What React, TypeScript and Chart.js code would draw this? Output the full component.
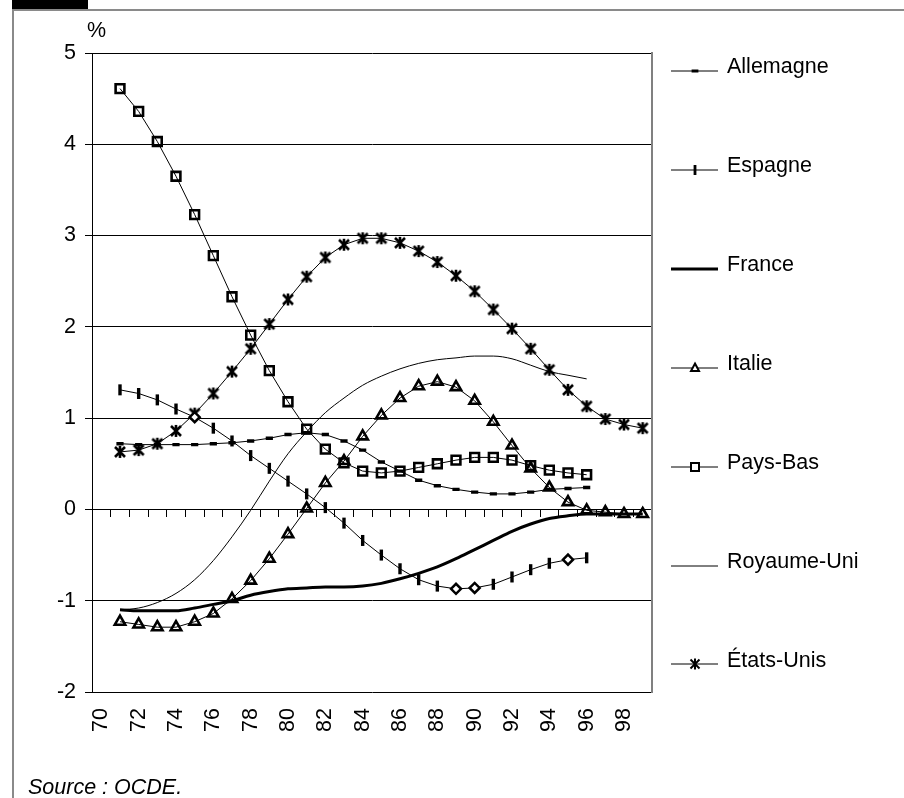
import React, { useEffect, useRef } from 'react';
import { Chart, registerables } from 'chart.js';

Chart.register(...registerables);

// ---------- data ----------
const years = ['70', '71', '72', '73', '74', '75', '76', '77', '78', '79', '80', '81', '82', '83', '84', '85', '86', '87', '88', '89', '90', '91', '92', '93', '94', '95', '96', '97', '98', '99'];

const allemagne = [null, 0.72, 0.71, 0.71, 0.71, 0.71, 0.72, 0.73, 0.75, 0.78, 0.82, 0.84, 0.82, 0.75, 0.65, 0.52, 0.42, 0.32, 0.26, 0.22, 0.19, 0.17, 0.17, 0.19, 0.22, 0.23, 0.24, null, null, null];
const espagne = [null, 1.31, 1.27, 1.2, 1.1, 1.01, 0.89, 0.75, 0.59, 0.45, 0.31, 0.17, 0.02, -0.15, -0.34, -0.5, -0.65, -0.77, -0.84, -0.87, -0.86, -0.82, -0.74, -0.66, -0.59, -0.55, -0.53, null, null, null];
const espagneDiamondYears = ['75', '89', '90', '95'];
const france = [null, -1.1, -1.11, -1.11, -1.11, -1.08, -1.04, -1.0, -0.94, -0.9, -0.87, -0.86, -0.85, -0.85, -0.84, -0.81, -0.76, -0.7, -0.63, -0.54, -0.44, -0.34, -0.24, -0.16, -0.1, -0.07, -0.05, -0.05, -0.05, -0.05];
const italie = [null, -1.23, -1.26, -1.29, -1.29, -1.23, -1.14, -0.98, -0.78, -0.54, -0.27, 0.01, 0.29, 0.53, 0.8, 1.03, 1.22, 1.35, 1.4, 1.34, 1.19, 0.96, 0.7, 0.45, 0.24, 0.08, -0.01, -0.03, -0.05, -0.05];
const paysBas = [null, 4.61, 4.36, 4.03, 3.65, 3.23, 2.78, 2.33, 1.91, 1.52, 1.18, 0.88, 0.66, 0.51, 0.42, 0.4, 0.42, 0.46, 0.5, 0.54, 0.57, 0.57, 0.54, 0.48, 0.43, 0.4, 0.38, null, null, null];
const royaumeUni = [null, -1.1, -1.08, -1.02, -0.92, -0.77, -0.56, -0.3, -0.01, 0.31, 0.61, 0.85, 1.06, 1.22, 1.36, 1.46, 1.54, 1.6, 1.64, 1.66, 1.68, 1.68, 1.65, 1.58, 1.51, 1.47, 1.43, null, null, null];
const etatsUnis = [null, 0.63, 0.65, 0.72, 0.86, 1.05, 1.27, 1.51, 1.76, 2.03, 2.3, 2.55, 2.76, 2.9, 2.97, 2.97, 2.92, 2.83, 2.71, 2.56, 2.39, 2.19, 1.98, 1.76, 1.53, 1.31, 1.13, 0.99, 0.93, 0.89];

const seriesNames = ['Allemagne', 'Espagne', 'France', 'Italie', 'Pays-Bas', 'Royaume-Uni', 'États-Unis'];
const yMin = -2;
const yMax = 5;
const yStep = 1;
const unitLabel = '%';
const sourceText = 'Source : OCDE.';

// ---------- styles ----------
const FONT = "'Liberation Sans', Arial, Helvetica, sans-serif";
const FONT_SIZE = 21.5;
const LEGEND_TOP = 71;
const LEGEND_STEP = 98.9;

function makeAsterisk(): HTMLCanvasElement {
  const c = document.createElement('canvas');
  c.width = 14;
  c.height = 14;
  const ctx = c.getContext('2d');
  if (ctx) {
    ctx.strokeStyle = '#000';
    ctx.lineWidth = 2.6;
    ctx.beginPath();
    ctx.moveTo(2, 2);
    ctx.lineTo(12, 12);
    ctx.moveTo(12, 2);
    ctx.lineTo(2, 12);
    ctx.moveTo(7, 1);
    ctx.lineTo(7, 13);
    ctx.stroke();
  }
  return c;
}

function LegendSample({ kind }: { kind: number }) {
  const cx = 24;
  const cy = 8;
  let marker: React.ReactNode = null;
  if (kind === 0) marker = <rect x={cx - 3.4} y={cy - 1.5} width={6.8} height={3} fill="#000" />;
  if (kind === 1) marker = <rect x={cx - 1.4} y={cy - 5} width={2.8} height={10} fill="#000" />;
  if (kind === 3)
    marker = <polygon points={`${cx},${cy - 4.5} ${cx + 4},${cy + 3} ${cx - 4},${cy + 3}`} fill="#fff" stroke="#000" strokeWidth={2} />;
  if (kind === 4) marker = <rect x={cx - 4} y={cy - 4} width={8} height={8} fill="#fff" stroke="#000" strokeWidth={2} />;
  if (kind === 6)
    marker = (
      <g stroke="#000" strokeWidth={2}>
        <line x1={cx - 4.5} y1={cy - 4.5} x2={cx + 4.5} y2={cy + 4.5} />
        <line x1={cx + 4.5} y1={cy - 4.5} x2={cx - 4.5} y2={cy + 4.5} />
        <line x1={cx} y1={cy - 5.5} x2={cx} y2={cy + 5.5} />
      </g>
    );
  return (
    <svg width={48} height={16} style={{ position: 'absolute', left: 0, top: 0, overflow: 'visible' }}>
      <line x1={0} y1={cy} x2={47} y2={cy} stroke="#000" strokeWidth={kind === 2 ? 3 : 1} />
      {marker}
    </svg>
  );
}

export default function App() {
  const canvasRef = useRef<HTMLCanvasElement | null>(null);

  useEffect(() => {
    const canvas = canvasRef.current;
    if (!canvas) return;
    const asterisk = makeAsterisk();
    const isDiamond = (i: number) => espagneDiamondYears.includes(years[i]);

    const base = {
      borderColor: '#000',
      borderWidth: 1,
      pointBorderColor: '#000',
      pointBackgroundColor: 'rgba(0,0,0,0)',
      fill: false,
      tension: 0,
      spanGaps: false,
    };

    const chart = new Chart(canvas, {
      type: 'line',
      data: {
        labels: years,
        datasets: [
          { ...base, label: seriesNames[0], data: allemagne, pointStyle: 'line', pointRadius: 3.6, pointBorderWidth: 3.4 },
          {
            ...base,
            label: seriesNames[1],
            data: espagne,
            pointStyle: (ctx: any) => (isDiamond(ctx.dataIndex) ? 'rectRot' : 'line'),
            pointRotation: (ctx: any) => (isDiamond(ctx.dataIndex) ? 0 : 90),
            pointRadius: (ctx: any) => (isDiamond(ctx.dataIndex) ? 5 : 5.5),
            pointBorderWidth: (ctx: any) => (isDiamond(ctx.dataIndex) ? 2.5 : 3.4),
            pointBackgroundColor: '#fff',
          },
          { ...base, label: seriesNames[2], data: france, borderWidth: 3, pointRadius: 0, cubicInterpolationMode: 'monotone' },
          { ...base, label: seriesNames[3], data: italie, pointStyle: 'triangle', pointRadius: 6, pointBorderWidth: 2.6 },
          { ...base, label: seriesNames[4], data: paysBas, pointStyle: 'rect', pointRadius: 6.2, pointBorderWidth: 2.6 },
          { ...base, label: seriesNames[5], data: royaumeUni, pointRadius: 0, cubicInterpolationMode: 'monotone' },
          { ...base, label: seriesNames[6], data: etatsUnis, pointStyle: asterisk as any, pointRadius: 6 },
        ] as any,
      },
      options: {
        animation: false,
        responsive: false,
        layout: { padding: { left: 13, top: 53, right: 252, bottom: 0 } },
        plugins: {
          legend: { display: false },
          tooltip: { enabled: false },
        },
        scales: {
          x: {
            type: 'category',
            position: 'bottom',
            offset: true,
            grid: { display: false, drawTicks: false },
            border: { display: false },
            ticks: {
              autoSkip: false,
              maxRotation: 90,
              minRotation: 90,
              padding: 16,
              color: '#000',
              font: { family: FONT, size: FONT_SIZE },
              callback: function (this: any, value: any, index: number) {
                return index % 2 === 0 ? this.getLabelForValue(value) : '';
              },
            },
            afterFit: (s: any) => {
              s.height = 106;
            },
          },
          x0: {
            type: 'category',
            axis: 'x',
            position: { y: 0 },
            offset: true,
            grid: { drawOnChartArea: false, drawTicks: true, tickLength: 7, color: '#000', lineWidth: 1, offset: true },
            border: { display: true, color: '#000', width: 1 },
            ticks: { display: false },
          },
          y: {
            type: 'linear',
            position: 'left',
            min: yMin,
            max: yMax,
            ticks: { stepSize: yStep, padding: 9, color: '#000', font: { family: FONT, size: FONT_SIZE } },
            grid: { color: '#000', lineWidth: 1, drawTicks: true, tickLength: 7 },
            border: { display: true, color: '#000', width: 1 },
            afterFit: (s: any) => {
              s.width = 79;
            },
          },
          yR: {
            type: 'linear',
            position: 'right',
            min: yMin,
            max: yMax,
            grid: { drawOnChartArea: false, drawTicks: false },
            ticks: { display: false },
            border: { display: true, color: '#808080', width: 2 },
            afterFit: (s: any) => {
              s.width = 0;
            },
          },
        },
      } as any,
    });

    return () => {
      chart.destroy();
    };
  }, []);

  return (
    <div
      style={{
        position: 'absolute',
        left: 0,
        top: 0,
        width: 904,
        height: 798,
        background: '#fff',
        overflow: 'hidden',
        fontFamily: FONT,
        color: '#000',
      }}
    >
      <canvas ref={canvasRef} width={904} height={798} style={{ position: 'absolute', left: 0, top: 0, display: 'block' }} />
      {/* frame */}
      <div style={{ position: 'absolute', left: 12, top: 0, width: 76, height: 10, background: '#000' }} />
      <div
        style={{
          position: 'absolute',
          left: 12,
          top: 9,
          width: 900,
          height: 800,
          borderLeft: '2px solid #8a8a8a',
          borderTop: '2px solid #8a8a8a',
          boxSizing: 'border-box',
        }}
      />
      <div style={{ position: 'absolute', left: 87, top: 20, fontSize: FONT_SIZE, lineHeight: 1 }}>{unitLabel}</div>
      {seriesNames.map((name, i) => {
        const y = LEGEND_TOP + LEGEND_STEP * i;
        return (
          <React.Fragment key={name}>
            <div style={{ position: 'absolute', left: 671, top: y - 8, width: 48, height: 16 }}>
              <LegendSample kind={i} />
            </div>
            <div style={{ position: 'absolute', left: 727, top: y - 14.6, fontSize: FONT_SIZE, lineHeight: 1, whiteSpace: 'nowrap' }}>
              {name}
            </div>
          </React.Fragment>
        );
      })}
      <div style={{ position: 'absolute', left: 28, top: 777, fontSize: FONT_SIZE, lineHeight: 1, fontStyle: 'italic', whiteSpace: 'nowrap' }}>
        {sourceText}
      </div>
    </div>
  );
}
